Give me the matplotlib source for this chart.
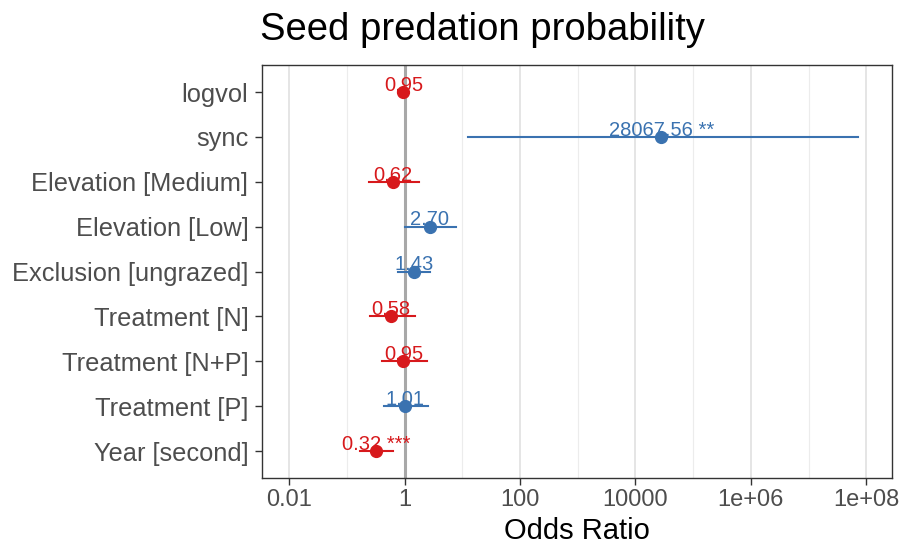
import numpy as np
import matplotlib.pyplot as plt
from matplotlib.ticker import FixedLocator, FixedFormatter, NullFormatter

plt.rcParams['font.family'] = ['Liberation Sans', 'DejaVu Sans']

# model terms, top to bottom
terms = ["logvol", "sync", "Elevation [Medium]", "Elevation [Low]",
         "Exclusion [ungrazed]", "Treatment [N]", "Treatment [N+P]",
         "Treatment [P]", "Year [second]"]
odds = [0.95, 28067.56, 0.62, 2.70, 1.43, 0.58, 0.95, 1.01, 0.32]
ci_low = [0.78, 12.4, 0.24, 1.0, 0.76, 0.25, 0.40, 0.43, 0.17]
ci_high = [1.15, 7.1e7, 1.74, 7.6, 2.8, 1.5, 2.4, 2.5, 0.64]
stars = ["", " **", "", "", "", "", "", "", " ***"]

red = "#d7191c"
blue = "#3a72b0"

fig = plt.figure(figsize=(9.04, 5.52), dpi=100)
ax = fig.add_axes([0.29, 0.134, 0.697, 0.748])

ypos = np.arange(len(terms))[::-1] + 1

ax.set_xscale("log")
ax.set_xlim(10 ** -2.47, 10 ** 8.45)
ax.set_ylim(0.4, len(terms) + 0.6)

# grid lines: major every two decades, minor in between
major = [1e-2, 1, 1e2, 1e4, 1e6, 1e8]
minor = [1e-1, 1e1, 1e3, 1e5, 1e7]
for v in major:
    ax.axvline(v, color="#dedede", lw=1.1, zorder=0)
for v in minor:
    ax.axvline(v, color="#ececec", lw=0.8, zorder=0)
ax.axvline(1, color="#a8a8a8", lw=2.2, zorder=1)

for y, o, lo, hi, s in zip(ypos, odds, ci_low, ci_high, stars):
    c = red if o < 1 else blue
    ax.plot([lo, hi], [y, y], color=c, lw=1.5, zorder=2)
    ax.plot(o, y, "o", color=c, ms=8.5, zorder=3)
    ax.text(o, y + 0.15, f"{o:.2f}{s}", color=c, fontsize=14.5,
            ha="center", va="center", zorder=4)

ax.xaxis.set_major_locator(FixedLocator(major))
ax.xaxis.set_major_formatter(FixedFormatter(["0.01", "1", "100", "10000", "1e+06", "1e+08"]))
ax.xaxis.set_minor_locator(FixedLocator([]))
ax.xaxis.set_minor_formatter(NullFormatter())
ax.set_yticks(ypos)
ax.set_yticklabels(terms)

ax.tick_params(axis="y", labelsize=18.3, pad=5)
ax.tick_params(axis="x", labelsize=17, pad=3)
ax.tick_params(axis="both", labelcolor="#4d4d4d", color="#333333", length=5, width=1)
for sp in ax.spines.values():
    sp.set_color("#333333")
    sp.set_linewidth(1)

ax.set_xlabel("Odds Ratio", fontsize=21, labelpad=4)
fig.text(0.288, 0.9275, "Seed predation probability", fontsize=27.5, ha="left", va="baseline")

fig.savefig("out.png", dpi=100)
